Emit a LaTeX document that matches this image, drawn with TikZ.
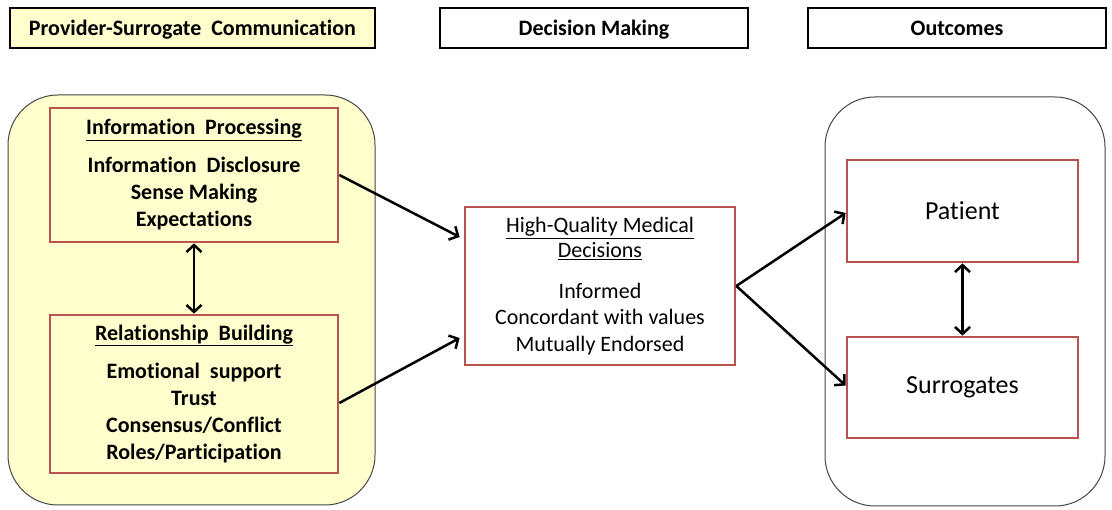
\documentclass[tikz,border=0pt]{standalone}
\usepackage{fontspec}
\setmainfont{Carlito}[RawFeature={-liga}]
\usetikzlibrary{arrows.meta}
\definecolor{paleyellow}{RGB}{255,255,206}
\definecolor{boxred}{RGB}{184,84,80}
\definecolor{framegray}{RGB}{70,70,70}
\begin{document}
\begin{tikzpicture}[x=1pt,y=-1pt,
  header/.style={draw=black, line width=2pt, minimum height=40pt, inner sep=0pt,
    text height=18pt, text depth=3pt,
    font=\fontsize{22}{26}\selectfont\bfseries},
  panel/.style={draw=framegray, line width=1pt, rounded corners=50pt, inner sep=0pt},
  itembox/.style={draw=boxred, line width=2.7pt, align=center, inner sep=0pt},
  boldtext/.style={font=\fontsize{22}{27}\selectfont\bfseries},
  plaintext/.style={font=\fontsize{22}{26.5}\selectfont},
  bigtext/.style={font=\fontsize{26}{30}\selectfont},
  arr/.style={line width=2.5pt, -{Straight Barb[length=7pt,width=15pt]}},
  biarr/.style={line width=2.5pt, {Straight Barb[length=7pt,width=15pt]}-{Straight Barb[length=7pt,width=15pt]}},
]
\useasboundingbox (0,0) rectangle (1112,510);

% column headers
\node[header, fill=paleyellow, minimum width=365pt] (h1) at (192.5,28) {Provider-Surrogate\ \ Communication};
\node[header, fill=white, minimum width=308pt] (h2) at (594,28) {Decision Making};
\node[header, fill=white, minimum width=298pt] (h3) at (957,28) {Outcomes};

% rounded panels
\node[panel, fill=paleyellow, minimum width=367pt, minimum height=410pt] (left) at (191.5,300) {};
\node[panel, fill=white, minimum width=280pt, minimum height=409pt] (right) at (965,301.5) {};

% communication components
\node[itembox, boldtext, minimum width=288pt, minimum height=134pt] (info) at (194,175)
  {\underline{Information\ \ Processing}\\[11pt]
   Information\ \ Disclosure\\ Sense Making\\ Expectations};
\node[itembox, boldtext, minimum width=288pt, minimum height=158pt] (rel) at (194,394)
  {\underline{Relationship\ \ Building}\\[11pt]
   Emotional\ \ support\\ Trust\\ Consensus/Conflict\\ Roles/Participation};

% decision
\node[itembox, plaintext, minimum width=270pt, minimum height=158pt] (mid) at (600,286)
  {\underline{High-Quality Medical}\\[-1.5pt] \underline{Decisions}\\[14pt]
   Informed\\ Concordant with values\\ Mutually Endorsed};

% outcomes
\node[itembox, bigtext, minimum width=231pt, minimum height=102pt] (pat) at (962.5,211) {Patient};
\node[itembox, bigtext, minimum width=231pt, minimum height=101pt] (sur) at (962.5,387.5) {Surrogates};

% connectors
\draw[biarr] (info.south) -- (rel.north);
\draw[biarr] (pat.south) -- (sur.north);
\draw[arr] (info.east) -- ([yshift=49pt,xshift=-4pt]mid.west);
\draw[arr] ([yshift=-9pt]rel.east) -- ([yshift=-52pt,xshift=-4pt]mid.west);
\draw[arr] (mid.east) -- ([yshift=-2pt]pat.west);
\draw[arr] (mid.east) -- ([yshift=2pt]sur.west);
\end{tikzpicture}
\end{document}
